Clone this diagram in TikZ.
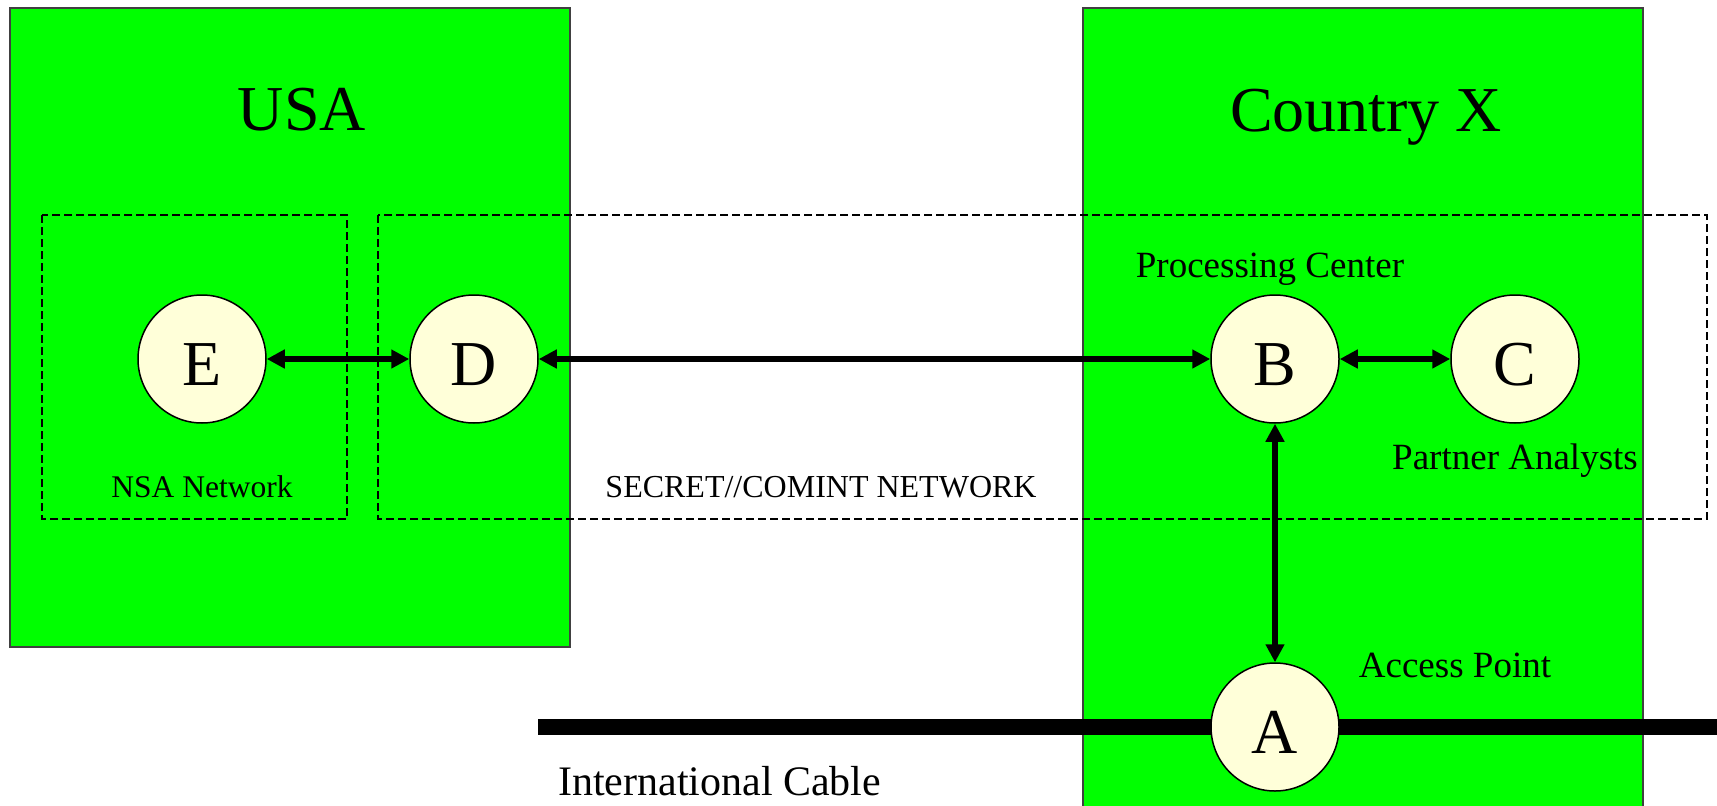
\documentclass[tikz,border=0pt]{standalone}
\usepackage{fontspec}
\setmainfont{Liberation Serif}
\usepackage{tikz}
\usepackage{xcolor}
\usetikzlibrary{backgrounds}
\usetikzlibrary{positioning, arrows.meta}

\definecolor{landgreen}{RGB}{0,255,0}
\definecolor{sitefill}{RGB}{255,255,217}

\begin{document}
\begin{tikzpicture}[x=1pt, y=-1pt,
    site/.style={circle, draw, line width=1.5pt, fill=sitefill, minimum size=128pt, inner sep=0pt,
                 text height=53pt, text depth=0pt, font=\fontsize{64}{64}\selectfont},
    land/.style={fill=landgreen, draw=black!75, line width=1.5pt},
    net/.style={draw, line width=1.3pt, dash pattern=on 8pt off 4pt},
    link/.style={line width=5.5pt, {Triangle[length=18pt,width=18pt]}-{Triangle[length=18pt,width=18pt]}},
    lbl/.style={anchor=base, inner sep=0pt, font=\fontsize{37}{37}\selectfont}]
                    \useasboundingbox (0,0) rectangle (1717,806);
                    \node [site] (E) at (202,359) {E};
                    \node [site] (D) at (474,359) {D};
                    \node [site] (B) at (1275,359) {B};
                    \node [site] (C) at (1515,359) {C};
                    \node [site] (A) at (1275,727) {A};
                    \coordinate (cablew) at (538,727);
                    \coordinate (cablee) at (1730,727);
                    \begin{scope}[on background layer]
                        \draw [land] (10,8) rectangle (570,647); % USA
                        \draw [land] (1083,8) rectangle (1643,830); % Country X, runs off the page
                        \draw [net] (42,215) rectangle (347,519);
                        \draw [net] (378,215) rectangle (1707,519);
                        \draw [line width=16pt] (cablew) -- (cablee);
                    \end{scope}
                    \node [lbl, font=\fontsize{64}{64}\selectfont] (usa) at (302,130) {USA};
                    \node [lbl, font=\fontsize{64}{64}\selectfont] (cx) at (1366,131) {Country X};
                    \node [lbl, above=17pt of B, anchor=base, xshift=-5pt] (pc) {Processing Center};
                    \node [lbl, below=46pt of C, anchor=base] (pa) {Partner Analysts};
                    \node [lbl] (ap) at (1455,677) {Access Point};
                    \node [lbl, below=74pt of E, anchor=base, font=\fontsize{31.5}{31.5}\selectfont] (nsa) {NSA Network};
                    \node [lbl, font=\fontsize{32}{32}\selectfont] (scn) at (821,497) {SECRET//COMINT NETWORK};
                    \node [lbl, anchor=base west, font=\fontsize{42}{42}\selectfont] (ic) at (558,795) {International Cable};
                    \draw [link] (E) -- (D);
                    \draw [link] (D) -- (B);
                    \draw [link] (B) -- (C);
                    \draw [link] (B) -- (A);
                \end{tikzpicture}
\end{document}
